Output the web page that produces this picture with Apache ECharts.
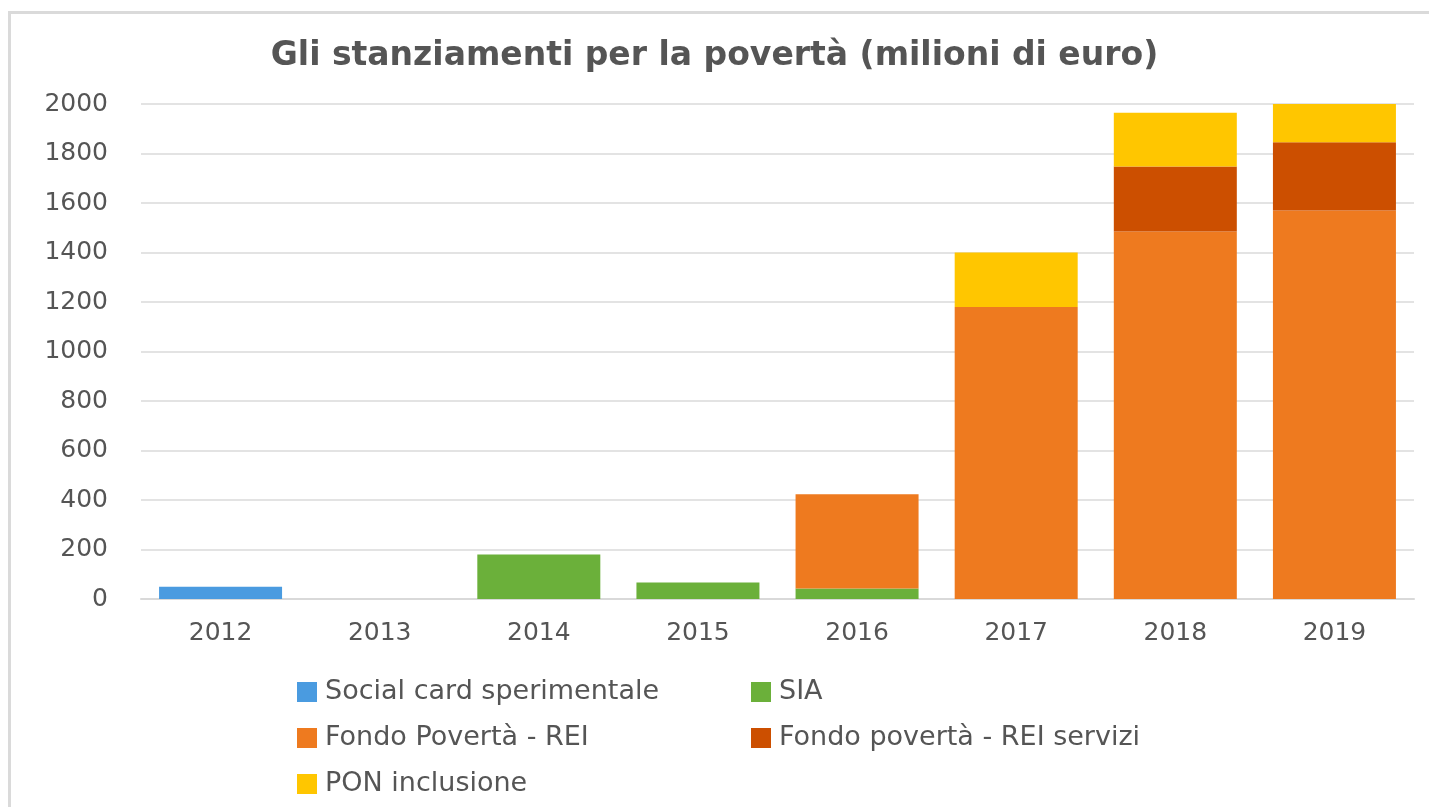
<!DOCTYPE html>
<html>
<head>
<meta charset="utf-8">
<script src="https://cdn.jsdelivr.net/npm/echarts@6/dist/echarts.min.js"></script>
<style>
  html, body { margin: 0; padding: 0; background: #fff; }
  #chart { width: 1429px; height: 807px; }
</style>
</head>
<body>
<div id="chart"></div>
<script>
var years = ['2012', '2013', '2014', '2015', '2016', '2017', '2018', '2019'];
var socialCard = [50, 0, 0, 0, 0, 0, 0, 0];
var sia = [0, 0, 180, 67, 42, 0, 0, 0];
var fondoRei = [0, 0, 0, 0, 381, 1180, 1485, 1570];
var fondoServizi = [0, 0, 0, 0, 0, 0, 262, 275];
var ponInclusione = [0, 0, 0, 0, 0, 220, 218, 155];

var seriesNames = ['Social card sperimentale', 'SIA', 'Fondo Povertà - REI', 'Fondo povertà - REI servizi', 'PON inclusione'];
var seriesColors = ['#4a9be0', '#6bb03a', '#ee7a1f', '#cc4f00', '#ffc600'];

function toBar(name, data, color) {
  return {
    name: name,
    type: 'bar',
    stack: 'tot',
    barWidth: 123,
    itemStyle: { color: color },
    data: data.map(function (v) { return v === 0 ? null : v; })
  };
}

var fontFam = '"DejaVu Sans", "Open Sans", sans-serif';

// one legend box per item, laid out in two columns like the original
var legendPos = [[292, 687], [746, 687], [292, 733], [746, 733], [292, 779]];
function makeLegend(i) {
  return {
    left: legendPos[i][0],
    top: legendPos[i][1] - 15,
    itemWidth: 20,
    itemHeight: 20,
    icon: 'rect',
    textStyle: { color: '#555555', fontSize: 27, lineHeight: 30, fontFamily: fontFam, padding: [0, 0, 0, 3] },
    data: [seriesNames[i]]
  };
}

var chart = echarts.init(document.getElementById('chart'));
var option = {
  backgroundColor: '#fff',
  animation: false,
  textStyle: { fontFamily: fontFam },
  title: {
    text: 'Gli stanziamenti per la povertà (milioni di euro)',
    left: 'center',
    top: 35,
    textStyle: { color: '#555555', fontSize: 33, fontWeight: 'bold', fontFamily: fontFam }
  },
  graphic: [{
    type: 'polyline',
    shape: { points: [[9.5, 900], [9.5, 12.5], [1450, 12.5]] },
    style: { fill: null, stroke: '#dadada', lineWidth: 3 },
    silent: true
  }],
  legend: [0, 1, 2, 3, 4].map(makeLegend),
  grid: { left: 141, right: 15, top: 104, bottom: 208, containLabel: false },
  xAxis: {
    type: 'category',
    data: years,
    axisTick: { show: false },
    axisLine: { lineStyle: { color: '#d9d9d9', width: 2 } },
    axisLabel: { color: '#555555', fontSize: 25, margin: 22, fontFamily: fontFam }
  },
  yAxis: {
    type: 'value',
    min: 0,
    max: 2000,
    interval: 200,
    axisLine: { show: false },
    axisTick: { show: false },
    splitLine: { lineStyle: { color: '#e3e3e3', width: 2 } },
    axisLabel: {
      color: '#555555',
      fontSize: 25,
      margin: 33,
      fontFamily: fontFam,
      formatter: function (v) { return String(v); }
    }
  },
  series: [
    toBar(seriesNames[0], socialCard, seriesColors[0]),
    toBar(seriesNames[1], sia, seriesColors[1]),
    toBar(seriesNames[2], fondoRei, seriesColors[2]),
    toBar(seriesNames[3], fondoServizi, seriesColors[3]),
    toBar(seriesNames[4], ponInclusione, seriesColors[4])
  ]
};
chart.setOption(option);
window.addEventListener('resize', function () {
  chart.resize();
});
</script>
</body>
</html>
